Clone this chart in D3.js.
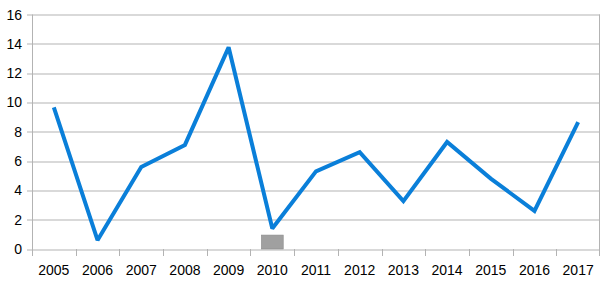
<!DOCTYPE html>
<html>
<head>
<meta charset="utf-8">
<script src="https://cdn.jsdelivr.net/npm/d3@7"></script>
<style>
    body { margin: 0; background: #fff; }
    text { font-family: "Liberation Sans", Arial, sans-serif; font-size: 14px; fill: #000; }
</style>
</head>
<body>
<svg class="chart"></svg>
<script>
const YEARS = ["2005", "2006", "2007", "2008", "2009", "2010", "2011",
    "2012", "2013", "2014", "2015", "2016", "2017"];

const LINE_VALUES = [9.67, 0.6, 5.6, 7.1, 13.76, 1.4, 5.3, 6.6, 3.27, 7.3, 4.8, 2.6, 8.65];

// single grey bar sitting under 2010
const BAR_YEARS = ["2010"];
const BAR_VALUES = [0.95];

const Y_TICKS = [0, 2, 4, 6, 8, 10, 12, 14, 16];

const WIDTH = 609, HEIGHT = 283;
const margins = { top: 14.5, right: 9, bottom: 34, left: 32 };
const innerW = WIDTH - margins.left - margins.right;
const innerH = HEIGHT - margins.top - margins.bottom;

var svg = d3.select('.chart')
    .attr('width', WIDTH)
    .attr('height', HEIGHT);

var g = svg.append('g')
    .attr('transform', 'translate(' + margins.left + ',' + margins.top + ')');

var x = d3.scaleBand().domain(YEARS).range([0, innerW]);
var y = d3.scaleLinear().domain([0, 16]).range([innerH, 0]);

// grid
g.selectAll('.grid')
    .data(Y_TICKS)
    .enter()
    .append('line')
    .attr('x1', -5)
    .attr('x2', innerW)
    .attr('y1', d => Math.round(y(d)) + 0.5)
    .attr('y2', d => Math.round(y(d)) + 0.5)
    .attr('stroke', '#b3b3b3');

// y labels
g.selectAll('.ylab')
    .data(Y_TICKS)
    .enter()
    .append('text')
    .text(d => d)
    .attr('x', -10)
    .attr('y', d => y(d) + 5)
    .style('text-anchor', 'end');

// left axis and right border
g.append('line')
    .attr('x1', 0.5).attr('x2', 0.5)
    .attr('y1', 0).attr('y2', innerH + 7)
    .attr('stroke', '#b3b3b3');
g.append('line')
    .attr('x1', innerW - 0.5).attr('x2', innerW - 0.5)
    .attr('y1', 0).attr('y2', innerH + 7)
    .attr('stroke', '#b3b3b3');

// x ticks at category boundaries
g.selectAll('.xtick')
    .data(YEARS.slice(1))
    .enter()
    .append('line')
    .attr('x1', d => Math.round(x(d)) + 0.5)
    .attr('x2', d => Math.round(x(d)) + 0.5)
    .attr('y1', innerH)
    .attr('y2', innerH + 7)
    .attr('stroke', '#b3b3b3');

g.selectAll('.xlab')
    .data(YEARS)
    .enter()
    .append('text')
    .text(d => d)
    .attr('x', d => x(d) + x.bandwidth() / 2)
    .attr('y', innerH + 26)
    .style('text-anchor', 'middle');

// bar
g.selectAll('.bar')
    .data(BAR_VALUES)
    .enter()
    .append('rect')
    .attr('x', (d, i) => x(BAR_YEARS[i]) + x.bandwidth() / 4)
    .attr('width', x.bandwidth() / 2)
    .attr('y', d => y(d))
    .attr('height', d => innerH - y(d))
    .attr('fill', '#a0a0a0')
    .attr('stroke', '#8a8a8a')
    .attr('stroke-width', 0.6);

// line
var line = d3.line()
    .x((d, i) => x(YEARS[i]) + x.bandwidth() / 2)
    .y(d => y(d));

g.append('path')
    .datum(LINE_VALUES)
    .attr('d', line)
    .attr('fill', 'none')
    .attr('stroke', '#0a7fd9')
    .attr('stroke-width', 4)
    .attr('stroke-linejoin', 'miter')
    .attr('stroke-miterlimit', 2);
</script>
</body>
</html>
